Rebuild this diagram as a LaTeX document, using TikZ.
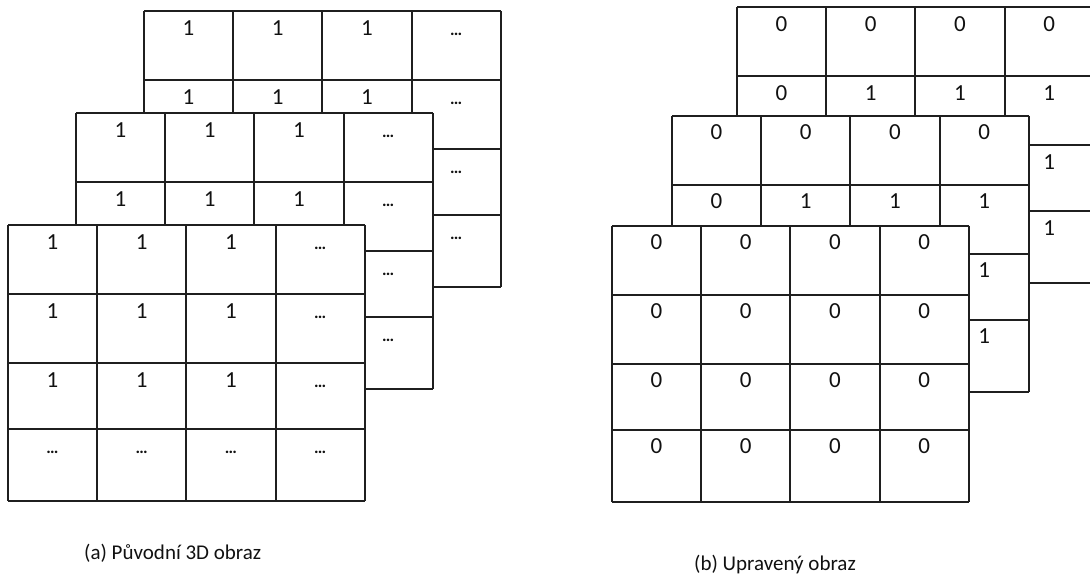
\documentclass[tikz,border=0pt]{standalone}
\usepackage{fontspec}
\setmainfont{Carlito}
\usepackage{xcolor}
\usepackage{tikz}
\usetikzlibrary{calc,positioning}
\definecolor{rule}{HTML}{1F1F1F}
\definecolor{body}{HTML}{111111}

\tikzset{
  gridline/.style={draw=rule, line width=2pt},
  cell/.style={anchor=base, inner sep=0pt, text=body, font=\fontsize{23}{25}\selectfont},
  caption/.style={anchor=base west, inner sep=0pt, text=body, font=\fontsize{21}{24}\selectfont},
}
\newcommand{\dd}{{\fontsize{17}{17}\selectfont\bfseries …}}

% one 4x4 slice: name, top-left corner, rows (top offset / entries)
\newcommand{\slice}[3]{%
  \begin{scope}[shift={#2}]
    \fill[white] (0,0) rectangle (357,276);
    \foreach \x in {0,89,178,268,357} \draw[gridline] (\x,0) -- (\x,276);
    \foreach \y in {0,69,138,204,276} \draw[gridline] (0,\y) -- (357,\y);
    \foreach \ytop/\row [count=\r] in {#3} {
      \foreach \val [count=\c] in \row
        \node[cell] (#1-\r-\c) at ({44.5+89.25*(\c-1)},{\ytop+24}) {\val};
    }
  \end{scope}}

\begin{document}
\begin{tikzpicture}[x=1pt, y=-1pt]
  \useasboundingbox (0,0) rectangle (1090,576);
  \clip (0,0) rectangle (1090,576);

  % (a) original volume
  \slice{aback}{(144,11)}{0/{1,1,1,\dd},69/{1,1,1,\dd},138/{{},{},{},\dd},204/{{},{},{},\dd}}
  \slice{amid}{(76,113)}{0/{1,1,1,\dd},69/{1,1,1,\dd},138/{{},{},{},\dd},204/{{},{},{},\dd}}
  \slice{afront}{(8,225)}{0/{1,1,1,\dd},69/{1,1,1,\dd},138/{1,1,1,\dd},204/{\dd,\dd,\dd,\dd}}
  \node[caption] (capa) at (84,559) {(a) Původní 3D obraz};

  % (b) modified volume
  \slice{bback}{(737,7)}{0/{0,0,0,0},69/{0,1,1,1},138/{{},{},{},1},204/{{},{},{},1}}
  \slice{bmid}{(672,115.5)}{0/{0,0,0,0},69/{0,1,1,1},138/{{},{},{},1},204/{{},{},{},1}}
  \slice{bfront}{(612,225.5)}{0/{0,0,0,0},69/{0,0,0,0},138/{0,0,0,0},204/{0,0,0,0}}
  \node[caption] (capb) at (694,570) {(b) Upravený obraz};
\end{tikzpicture}
\end{document}
